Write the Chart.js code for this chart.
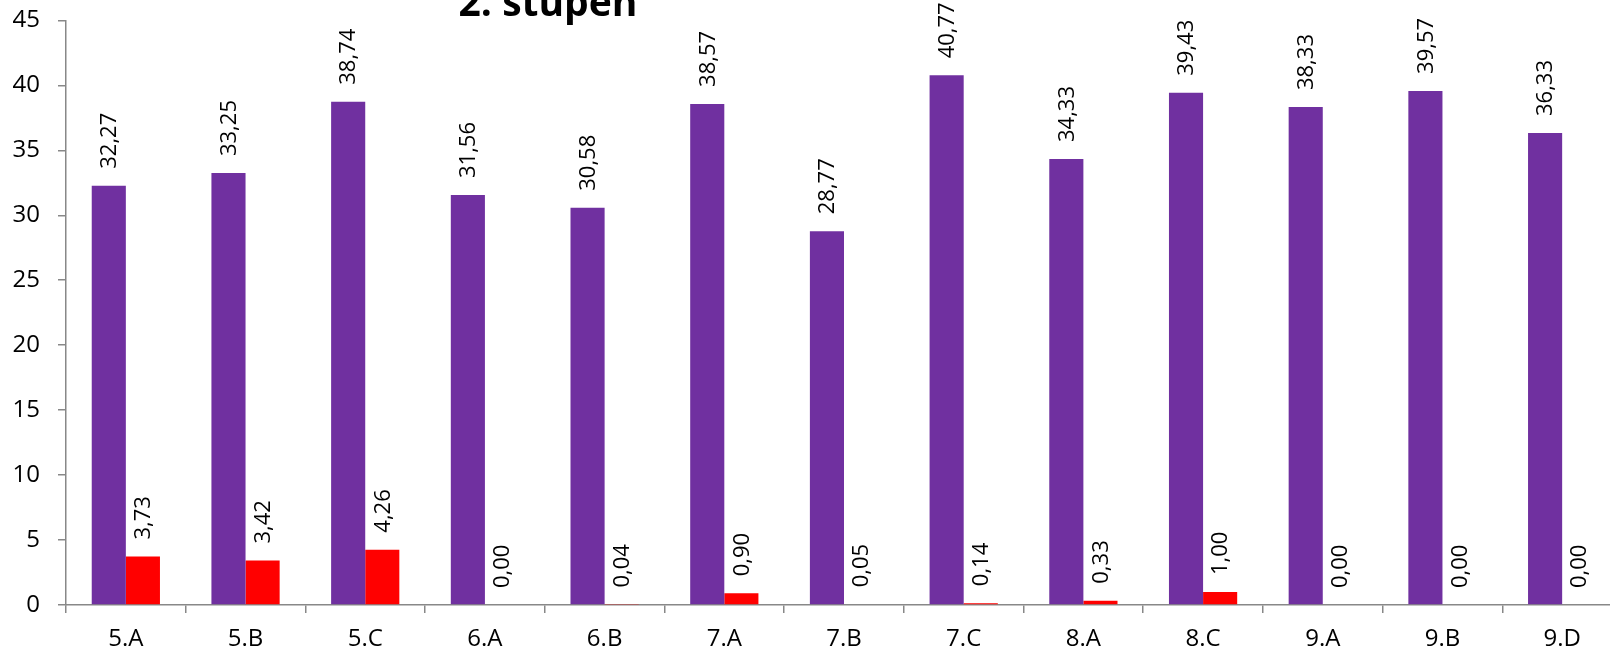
<!DOCTYPE html>
<html>
<head>
<meta charset="utf-8">
<title>2. stupeň</title>
<script src="https://cdn.jsdelivr.net/npm/chart.js@4.4.1/dist/chart.umd.min.js"></script>
<style>
    html, body { margin: 0; padding: 0; background: #fff; overflow: hidden; }
    #chart { display: block; margin-top: -12px; }
</style>
</head>
<body>
<canvas id="chart" width="1625" height="666"></canvas>
<script>
// Data
const classes = ['5.A', '5.B', '5.C', '6.A', '6.B', '7.A', '7.B', '7.C', '8.A', '8.C', '9.A', '9.B', '9.D'];
const purpleValues = [32.27, 33.25, 38.74, 31.56, 30.58, 38.57, 28.77, 40.77, 34.33, 39.43, 38.33, 39.57, 36.33];
const redValues = [3.73, 3.42, 4.26, 0.00, 0.04, 0.90, 0.05, 0.14, 0.33, 1.00, 0.00, 0.00, 0.00];
const yTicks = [0, 5, 10, 15, 20, 25, 30, 35, 40, 45];

const FONT = "'Open Sans', sans-serif";
const AXIS_COLOR = '#888888';

// Value labels rotated above each bar, Czech decimal comma
const barLabels = {
    id: 'barLabels',
    afterDatasetsDraw(chart) {
        const ctx = chart.ctx;
        ctx.save();
        ctx.fillStyle = '#000';
        ctx.font = `22px ${FONT}`;
        ctx.textAlign = 'left';
        ctx.textBaseline = 'middle';
        chart.data.datasets.forEach((ds, i) => {
            const meta = chart.getDatasetMeta(i);
            meta.data.forEach((bar, j) => {
                const text = ds.data[j].toFixed(2).replace('.', ',');
                ctx.save();
                ctx.translate(bar.x + 1, bar.y - 17);
                ctx.rotate(-Math.PI / 2);
                ctx.fillText(text, 0, 0);
                ctx.restore();
            });
        });
        ctx.restore();
    }
};

// Title sits partly above the visible area, as in the reference crop
const topTitle = {
    id: 'topTitle',
    afterDraw(chart) {
        const ctx = chart.ctx;
        ctx.save();
        ctx.fillStyle = '#000';
        ctx.font = `bold 39px ${FONT}`;
        ctx.textAlign = 'center';
        ctx.textBaseline = 'alphabetic';
        ctx.fillText('2. stupeň', 548, chart.chartArea.top - 4);
        ctx.restore();
    }
};

new Chart(document.getElementById('chart').getContext('2d'), {
    type: 'bar',
    data: {
        labels: classes,
        datasets: [{
            label: 'fialová',
            data: purpleValues,
            backgroundColor: '#7030A0',
            borderWidth: 0
        }, {
            label: 'červená',
            data: redValues,
            backgroundColor: '#FF0000',
            borderWidth: 0
        }]
    },
    options: {
        responsive: false,
        animation: false,
        devicePixelRatio: 1,
        layout: {
            padding: { top: 9, right: 3, left: 0, bottom: 0 }
        },
        datasets: {
            bar: {
                categoryPercentage: 0.57,
                barPercentage: 1
            }
        },
        plugins: {
            legend: { display: false },
            tooltip: { enabled: false }
        },
        scales: {
            x: {
                offset: true,
                afterFit: (axis) => {
                    axis.height = 49;
                },
                grid: {
                    offset: true,
                    drawOnChartArea: false,
                    drawTicks: true,
                    tickLength: 8,
                    color: AXIS_COLOR,
                    lineWidth: 1.5
                },
                border: { color: AXIS_COLOR, width: 1.5 },
                ticks: {
                    color: '#000',
                    font: { family: FONT, size: 24 },
                    padding: 12,
                    maxRotation: 0,
                    autoSkip: false
                }
            },
            y: {
                min: 0,
                max: 45,
                afterBuildTicks: (axis) => {
                    axis.ticks = yTicks.map(v => ({ value: v }));
                },
                afterFit: (axis) => {
                    axis.width = 66;
                },
                grid: {
                    drawOnChartArea: false,
                    drawTicks: true,
                    tickLength: 8,
                    color: AXIS_COLOR,
                    lineWidth: 1.5
                },
                border: { color: AXIS_COLOR, width: 1.5 },
                ticks: {
                    color: '#000',
                    font: { family: FONT, size: 24 },
                    padding: 18
                }
            }
        }
    },
    plugins: [barLabels, topTitle]
});
</script>
</body>
</html>
